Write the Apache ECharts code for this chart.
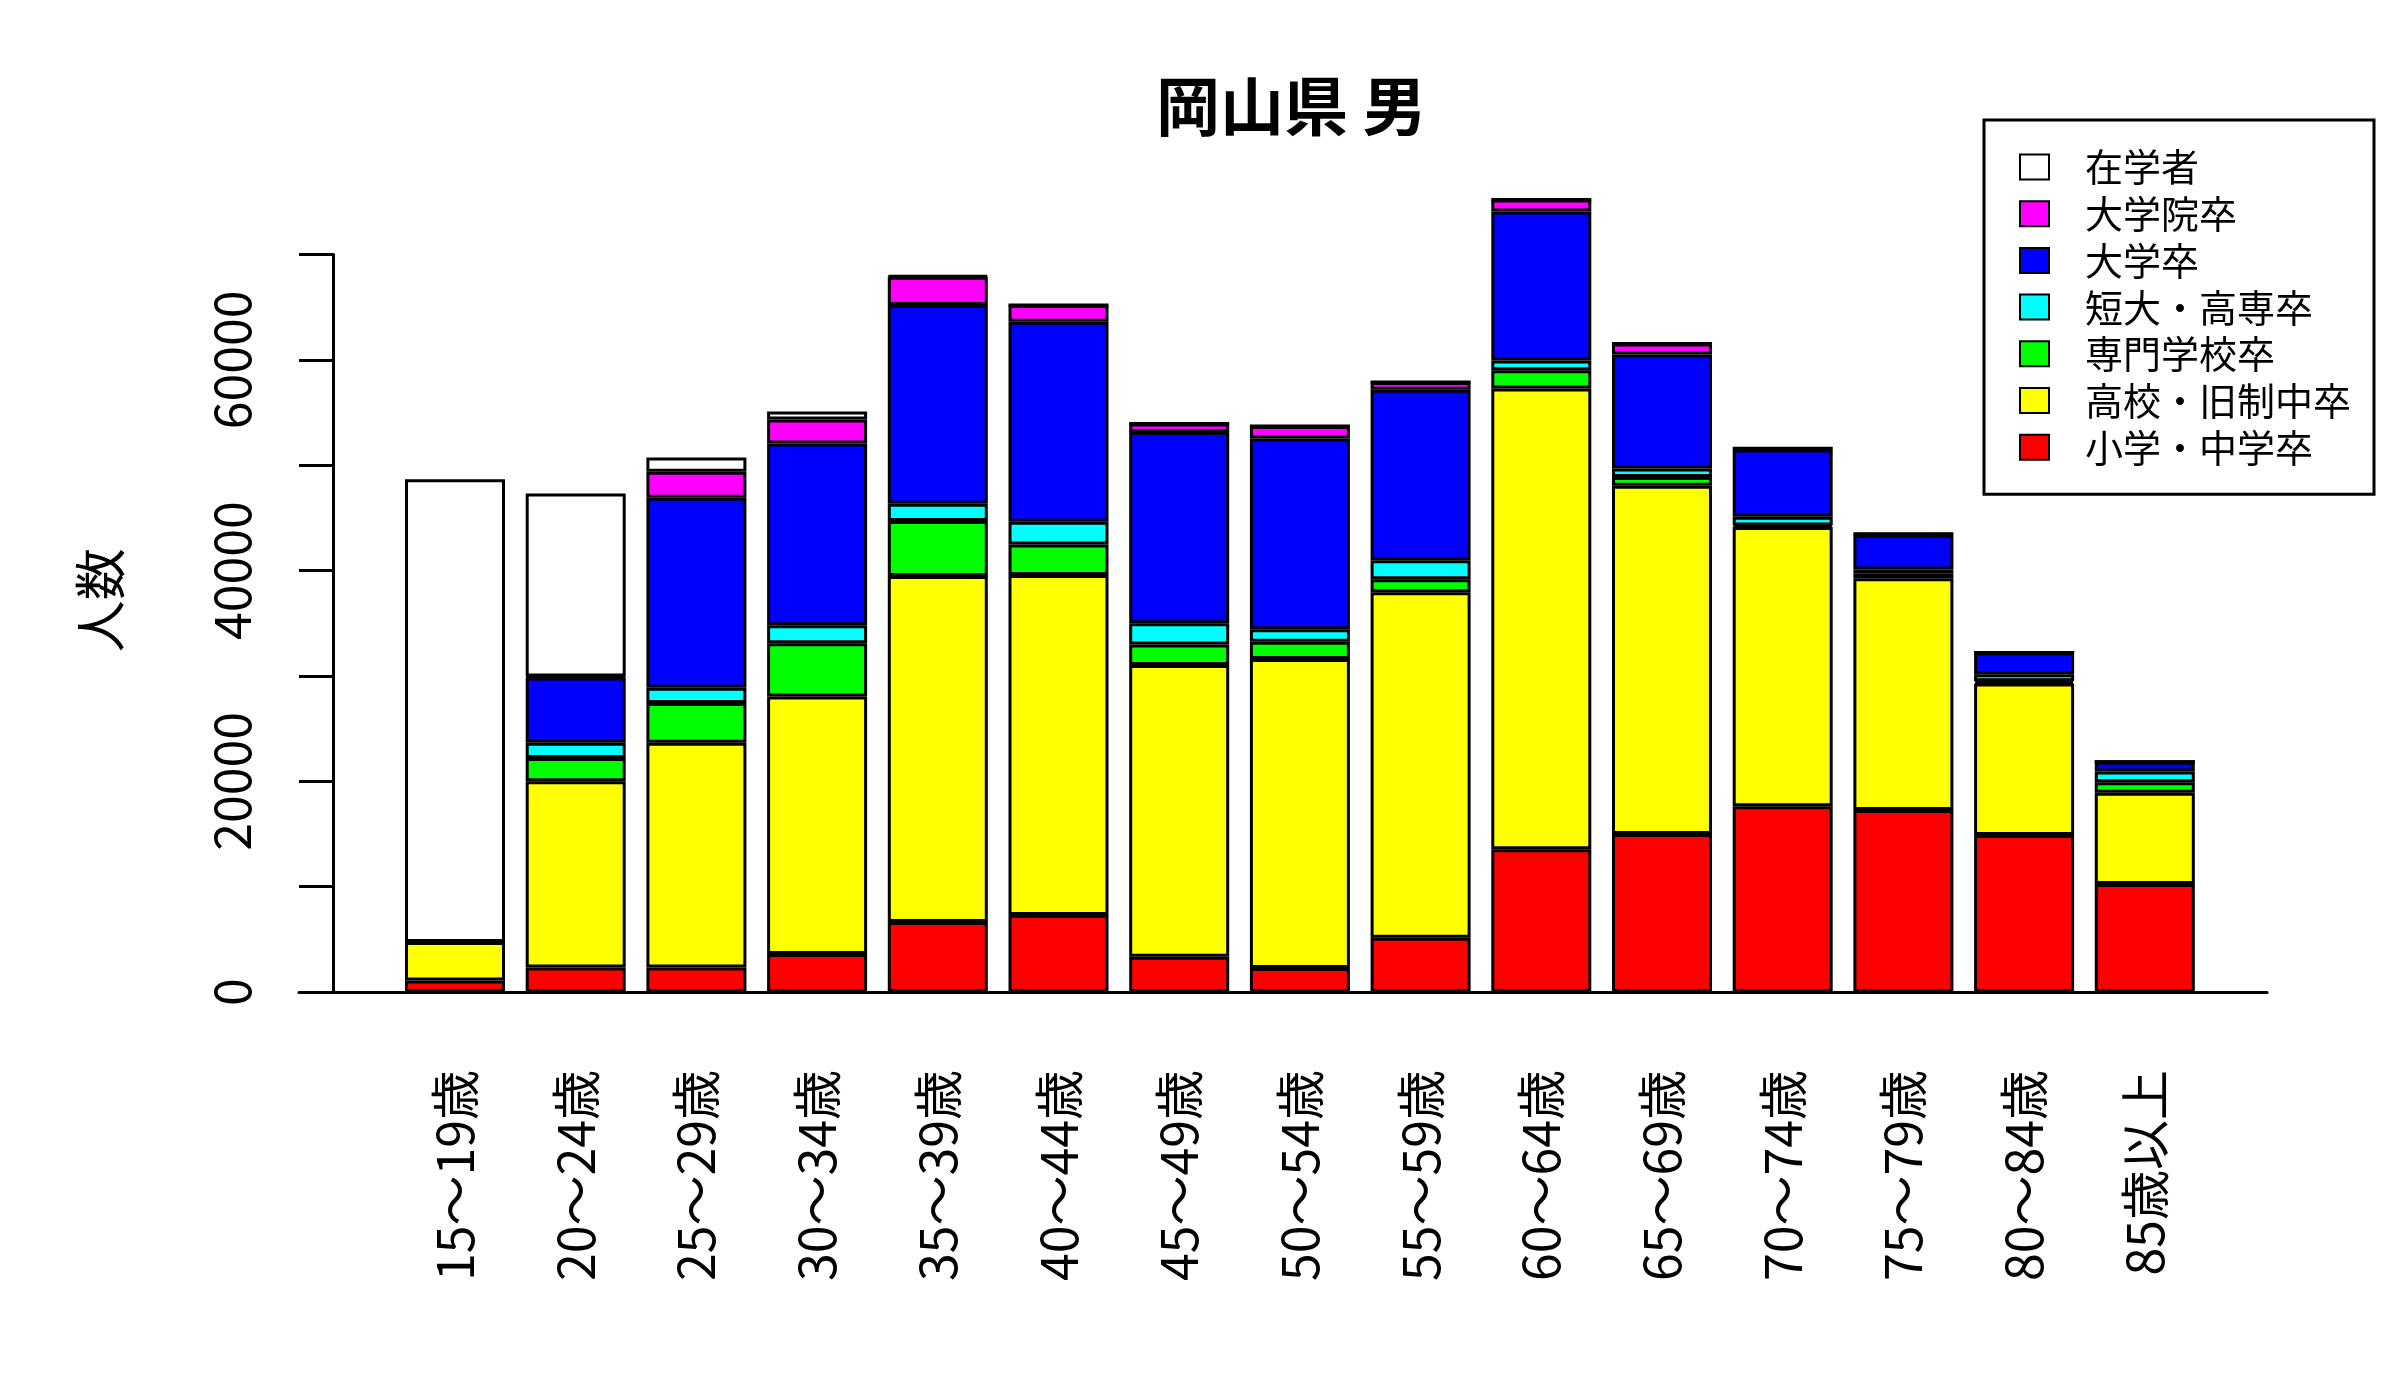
<!DOCTYPE html>
<html>
<head>
<meta charset="utf-8">
<script src="https://cdn.jsdelivr.net/npm/echarts@6/dist/echarts.min.js"></script>
<style>
  html, body { margin: 0; padding: 0; background: #ffffff; }
  #chart { width: 2400px; height: 1400px; }
</style>
</head>
<body>
<div id="chart"></div>
<script>
// ---- data ----
const chartTitle = '岡山県 男';
const yAxisName = '人数';
const ageGroups = ['15～19歳', '20～24歳', '25～29歳', '30～34歳', '35～39歳', '40～44歳', '45～49歳',
  '50～54歳', '55～59歳', '60～64歳', '65～69歳', '70～74歳', '75～79歳', '80～84歳', '85歳以上'];

const elementaryJunior = [1080, 2320, 2320, 3610, 6650, 7320, 3350, 2270, 5155, 13560, 15000, 17630, 17270, 14900, 10260];
const highSchool       = [3660, 17680, 21340, 24435, 32840, 32270, 27680, 29330, 32785, 43710, 33045, 26500, 22010, 14380, 8660];
const vocational       = [0, 2220, 3765, 5050, 5205, 2890, 1960, 1650, 1240, 1755, 825, 150, 410, 210, 980];
const juniorCollege    = [0, 1440, 1445, 1705, 1650, 2165, 2010, 1185, 1800, 925, 825, 820, 415, 665, 1030];
const university       = [0, 6190, 18040, 17270, 18865, 18965, 18150, 18095, 16190, 14130, 10825, 6400, 3295, 2065, 930];
const graduateSchool   = [0, 100, 2475, 2265, 2680, 1600, 820, 1185, 720, 1130, 1030, 100, 100, 0, 0];
const enrolled         = [43920, 17370, 1340, 775, 100, 0, 0, 0, 0, 0, 0, 0, 0, 0, 0];

const seriesNames = ['小学・中学卒', '高校・旧制中卒', '専門学校卒', '短大・高専卒', '大学卒', '大学院卒', '在学者'];
const seriesColors = ['#FF0000', '#FFFF00', '#00FF00', '#00FFFF', '#0000FF', '#FF00FF', '#FFFFFF'];
const seriesValues = [elementaryJunior, highSchool, vocational, juniorCollege, university, graduateSchool, enrolled];

const yTickMin = 0, yTickMax = 70000, yTickStep = 10000, yLabelStep = 20000;

// ---- chart ----
const FONT = '"Noto Sans CJK JP", "Noto Sans", sans-serif';
const chart = echarts.init(document.getElementById('chart'), null, { renderer: 'canvas' });

const series = seriesNames.map((name, i) => ({
  name: name,
  type: 'bar',
  stack: 'total',
  xAxisIndex: 0,
  yAxisIndex: 0,
  barWidth: 100,
  clip: false,
  data: seriesValues[i],
  itemStyle: { color: seriesColors[i], borderColor: '#000000', borderWidth: 3 },
  emphasis: { disabled: true }
}));

const option = {
  animation: false,
  backgroundColor: '#ffffff',
  title: {
    text: chartTitle,
    left: 1156,
    top: 74,
    padding: 0,
    textStyle: { fontFamily: FONT, fontSize: 64, fontWeight: 'bold', color: '#000000', lineHeight: 64 }
  },
  legend: {
    data: seriesNames.slice().reverse(),
    orient: 'vertical',
    left: 1984,
    top: 120,
    padding: [28, 23, 28, 35],
    borderColor: '#000000',
    borderWidth: 3,
    backgroundColor: '#ffffff',
    itemWidth: 29,
    itemHeight: 25,
    itemGap: 8.7,
    icon: 'rect',
    selectedMode: false,
    textStyle: { fontFamily: FONT, fontSize: 38, lineHeight: 38, color: '#000000', padding: [0, 0, 0, 31] }
  },
  grid: [
    { left: 394.65, width: 1810.5, top: 254.5, height: 737.5, containLabel: false },
    { left: 299, right: 133, top: 254.5, height: 737.5, containLabel: false }
  ],
  xAxis: [
    {
      type: 'category',
      gridIndex: 0,
      data: ageGroups,
      axisLine: { show: false },
      axisTick: { show: false },
      splitLine: { show: false },
      axisLabel: {
        interval: 0,
        rotate: 90,
        margin: 78,
        fontFamily: FONT,
        fontSize: 50,
        color: '#000000'
      }
    },
    {
      type: 'value',
      gridIndex: 1,
      min: 0,
      max: 1,
      axisLine: { show: true, onZero: false, lineStyle: { color: '#000000', width: 3 } },
      axisTick: { show: false },
      axisLabel: { show: false },
      splitLine: { show: false }
    }
  ],
  yAxis: [
    {
      type: 'value',
      gridIndex: 0,
      position: 'left',
      offset: 61.65,
      min: yTickMin,
      max: yTickMax,
      interval: yTickStep,
      name: yAxisName,
      nameLocation: 'middle',
      nameRotate: 90,
      nameGap: 207,
      nameTextStyle: { fontFamily: FONT, fontSize: 52, color: '#000000', padding: [0, 0, 0, 46] },
      axisLine: { show: true, lineStyle: { color: '#000000', width: 3 } },
      axisTick: { show: true, length: 34, inside: false, lineStyle: { color: '#000000', width: 3 } },
      splitLine: { show: false },
      axisLabel: {
        rotate: 90,
        margin: 76,
        fontFamily: FONT,
        fontSize: 50,
        color: '#000000',
        formatter: function (v) { return (v % yLabelStep === 0) ? String(v) : ''; }
      }
    },
    {
      type: 'value',
      gridIndex: 1,
      show: false,
      min: 0,
      max: 1
    }
  ],
  series: series
};

chart.setOption(option);
</script>
</body>
</html>
